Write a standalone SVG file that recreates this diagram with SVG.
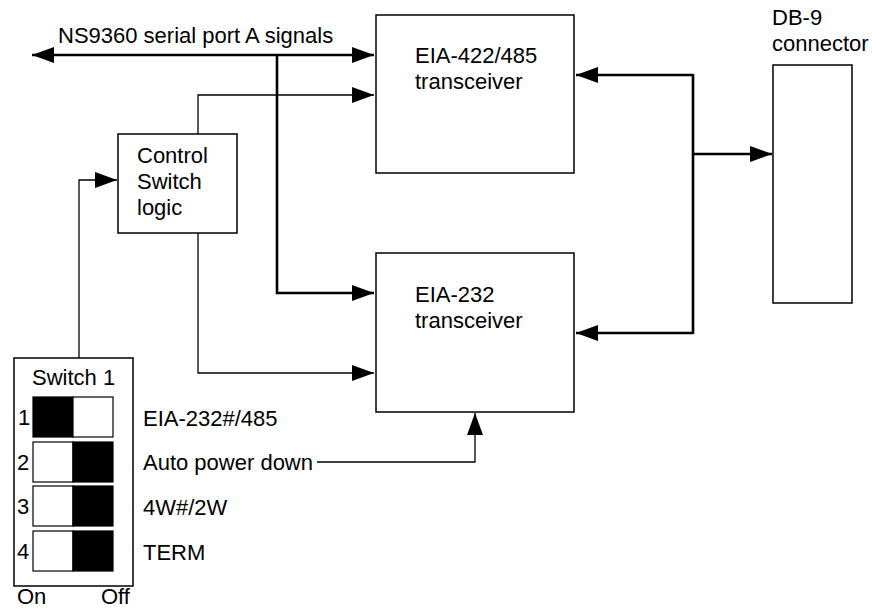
<svg xmlns="http://www.w3.org/2000/svg" width="872" height="610" viewBox="0 0 872 610">
<style>
text{font-family:"Liberation Sans",Arial,sans-serif;font-size:22px;fill:#000}
.box{fill:#fff;stroke:#000;stroke-width:1.5}
.thin{fill:none;stroke:#000;stroke-width:1.3}
.thick{fill:none;stroke:#000;stroke-width:2.6}
.blk{fill:#000;stroke:#000;stroke-width:1.2}
.wht{fill:#fff;stroke:#000;stroke-width:1.2}
</style>
<defs>
<marker id="ah" markerUnits="userSpaceOnUse" markerWidth="24" markerHeight="18" refX="22" refY="8" orient="auto-start-reverse">
<path d="M0,0 L22,8 L0,16 z" fill="#000"/>
</marker>
</defs>
<rect width="872" height="610" fill="#fff"/>
<g id="connectors">
<path class="thick" d="M32,55 H374" marker-start="url(#ah)" marker-end="url(#ah)"/>
<path class="thick" d="M277,55 V293 H374" marker-end="url(#ah)"/>
<path class="thin" d="M198,134 V95 H374" marker-end="url(#ah)"/>
<path class="thin" d="M198,233 V373 H374" marker-end="url(#ah)"/>
<path class="thin" d="M79,358 V180 H117" marker-end="url(#ah)"/>
<path class="thin" d="M317,462 H475 V413" marker-end="url(#ah)"/>
<path class="thick" d="M693,75 H576" marker-end="url(#ah)"/>
<path class="thick" d="M693,333 H576" marker-end="url(#ah)"/>
<path class="thick" d="M693,74 V334"/>
<path class="thick" d="M693,154 H772" marker-end="url(#ah)"/>
</g>
<g id="label-ns9360">
<text x="58" y="43">NS9360 serial port A signals</text>
</g>
<g id="eia422">
<rect class="box" x="376" y="15" width="198" height="158"/>
<text x="415" y="63">EIA-422/485</text>
<text x="415" y="89">transceiver</text>
</g>
<g id="eia232">
<rect class="box" x="376" y="253" width="198" height="159"/>
<text x="415" y="302">EIA-232</text>
<text x="415" y="328">transceiver</text>
</g>
<g id="db9">
<rect class="box" x="773" y="65" width="79" height="238"/>
<text x="772" y="25">DB-9</text>
<text x="772" y="51">connector</text>
</g>
<g id="control">
<rect class="box" x="118" y="134" width="119" height="99"/>
<text x="137" y="163">Control</text>
<text x="137" y="189">Switch</text>
<text x="137" y="215">logic</text>
</g>
<g id="switch1">
<rect class="box" x="14" y="358" width="119" height="228"/>
<text x="32" y="385">Switch 1</text>
<rect class="blk" x="33" y="397" width="40" height="40"/>
<rect class="wht" x="73" y="397" width="40" height="40"/>
<rect class="wht" x="33" y="442" width="40" height="40"/>
<rect class="blk" x="73" y="442" width="40" height="40"/>
<rect class="wht" x="33" y="486" width="40" height="40"/>
<rect class="blk" x="73" y="486" width="40" height="40"/>
<rect class="wht" x="33" y="531" width="40" height="40"/>
<rect class="blk" x="73" y="531" width="40" height="40"/>
<text x="18" y="425">1</text>
<text x="17" y="470">2</text>
<text x="17" y="514">3</text>
<text x="17" y="559">4</text>
<text x="17" y="604" font-size="21">On</text>
<text x="101" y="604" font-size="21">Off</text>
</g>
<g id="switch-labels">
<text x="143" y="426">EIA-232#/485</text>
<text x="143" y="470">Auto power down</text>
<text x="143" y="515">4W#/2W</text>
<text x="143" y="560">TERM</text>
</g>
</svg>
